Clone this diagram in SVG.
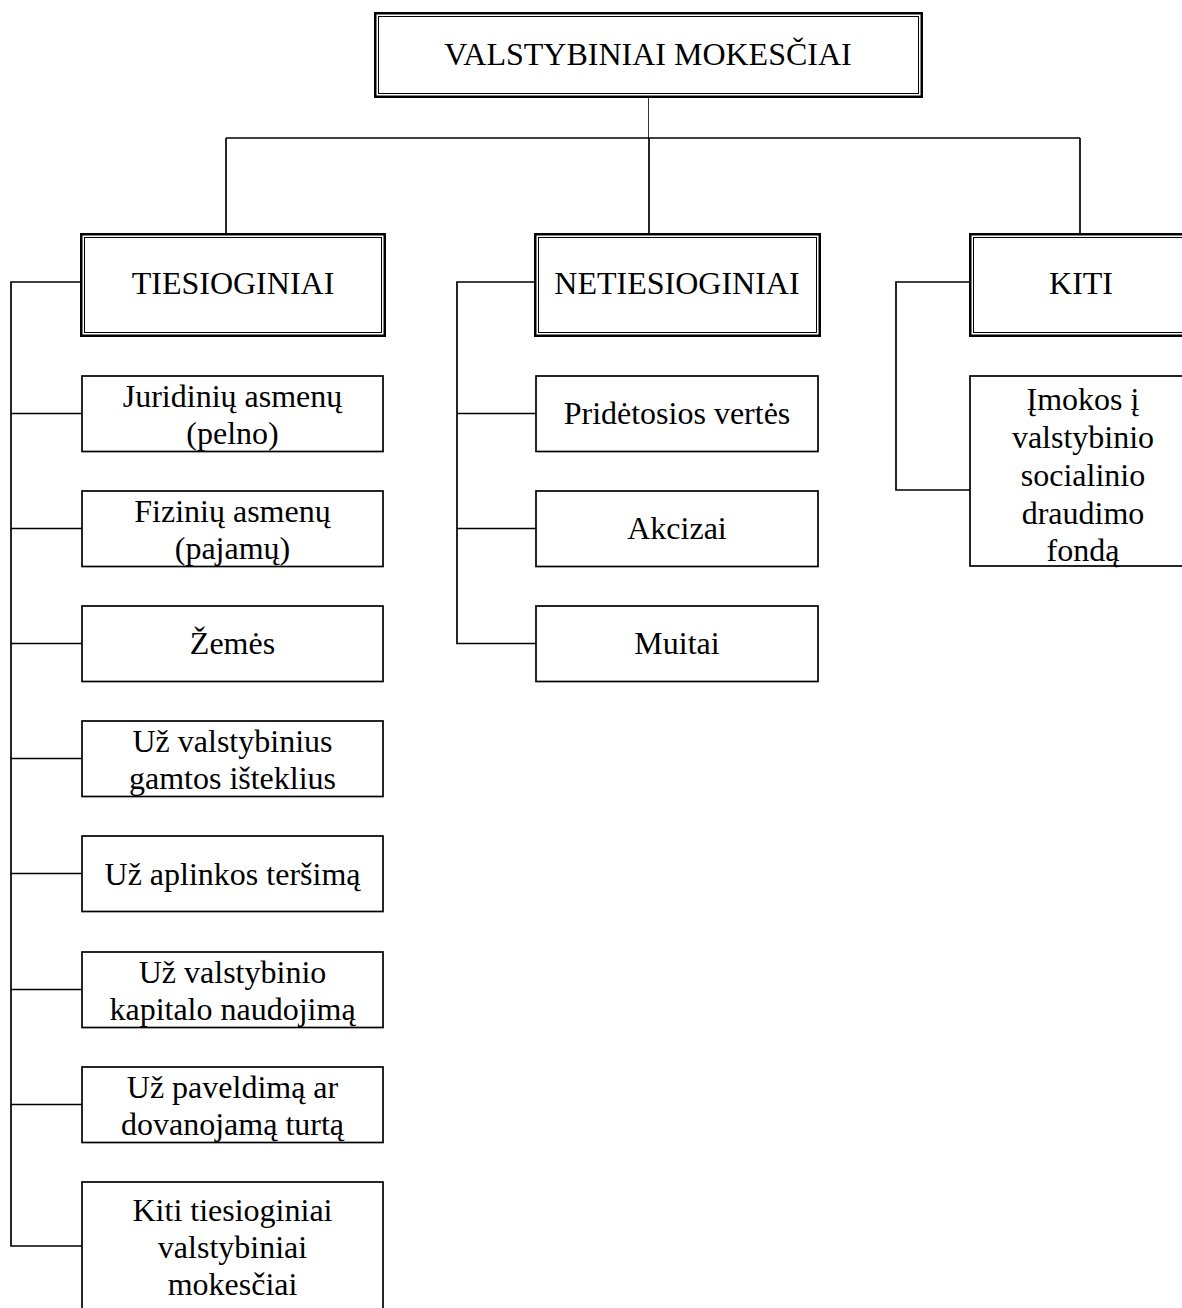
<svg xmlns="http://www.w3.org/2000/svg" width="1182" height="1308" viewBox="0 0 1182 1308">
<style>
  .bg { fill: #ffffff; }
  .outer { fill: none; stroke: #000; stroke-width: 2.5; }
  .inner { fill: none; stroke: #000; stroke-width: 1; }
  .box { fill: none; stroke: #000; stroke-width: 1.7; }
  .conn { fill: none; stroke: #000; stroke-width: 1.7; }
  .thin { fill: none; stroke: #333; stroke-width: 1; }
  text { font-family: "Liberation Serif", "Times New Roman", serif; font-size: 32px; fill: #000; text-anchor: middle; }
</style>
<rect class="bg" x="0" y="0" width="1182" height="1308"/>

<g id="connectors">
  <line class="thin" x1="648.5" y1="98" x2="648.5" y2="138"/>
  <line class="conn" x1="226" y1="138" x2="1080" y2="138"/>
  <line class="conn" x1="226" y1="138" x2="226" y2="233"/>
  <line class="conn" x1="649" y1="138" x2="649" y2="233"/>
  <line class="conn" x1="1080" y1="138" x2="1080" y2="233"/>

  <polyline class="conn" points="80,282 11,282 11,1246 82,1246"/>
  <line class="conn" x1="11" y1="413.5" x2="82" y2="413.5"/>
  <line class="conn" x1="11" y1="528.5" x2="82" y2="528.5"/>
  <line class="conn" x1="11" y1="643.5" x2="82" y2="643.5"/>
  <line class="conn" x1="11" y1="758.5" x2="82" y2="758.5"/>
  <line class="conn" x1="11" y1="873.5" x2="82" y2="873.5"/>
  <line class="conn" x1="11" y1="989.5" x2="82" y2="989.5"/>
  <line class="conn" x1="11" y1="1104.5" x2="82" y2="1104.5"/>

  <polyline class="conn" points="534,282 457,282 457,643.5 536,643.5"/>
  <line class="conn" x1="457" y1="413.5" x2="536" y2="413.5"/>
  <line class="conn" x1="457" y1="528.5" x2="536" y2="528.5"/>

  <polyline class="conn" points="969,282 896,282 896,490 970,490"/>
</g>

<g id="root">
  <rect class="outer" x="375.25" y="13.25" width="546.5" height="83.5"/>
  <rect class="inner" x="378.5" y="16.5" width="540" height="77"/>
  <text x="648" y="65">VALSTYBINIAI MOKESČIAI</text>
</g>

<g id="tiesioginiai">
  <rect class="outer" x="81.25" y="234.25" width="303.5" height="101.5"/>
  <rect class="inner" x="84.5" y="237.5" width="297" height="95"/>
  <text x="233" y="294">TIESIOGINIAI</text>
</g>

<g id="netiesioginiai">
  <rect class="outer" x="535.25" y="234.25" width="284.5" height="101.5"/>
  <rect class="inner" x="538.5" y="237.5" width="278" height="95"/>
  <text x="677" y="294">NETIESIOGINIAI</text>
</g>

<g id="kiti">
  <rect class="outer" x="970.25" y="234.25" width="230" height="101.5"/>
  <rect class="inner" x="973.5" y="237.5" width="230" height="95"/>
  <text x="1081" y="294">KITI</text>
</g>

<g id="juridiniu">
  <rect class="box" x="82" y="376" width="301" height="75.5"/>
  <text x="232.5" y="407">Juridinių asmenų</text>
  <text x="232.5" y="444">(pelno)</text>
</g>
<g id="fiziniu">
  <rect class="box" x="82" y="491" width="301" height="75.5"/>
  <text x="232.5" y="522">Fizinių asmenų</text>
  <text x="232.5" y="559">(pajamų)</text>
</g>
<g id="zemes">
  <rect class="box" x="82" y="606" width="301" height="75.5"/>
  <text x="232.5" y="654">Žemės</text>
</g>
<g id="gamtos">
  <rect class="box" x="82" y="721" width="301" height="75.5"/>
  <text x="232.5" y="752">Už valstybinius</text>
  <text x="232.5" y="789">gamtos išteklius</text>
</g>
<g id="aplinkos">
  <rect class="box" x="82" y="836" width="301" height="75.5"/>
  <text x="232.5" y="885">Už aplinkos teršimą</text>
</g>
<g id="kapitalo">
  <rect class="box" x="82" y="952" width="301" height="75.5"/>
  <text x="232.5" y="983">Už valstybinio</text>
  <text x="232.5" y="1020">kapitalo naudojimą</text>
</g>
<g id="paveldima">
  <rect class="box" x="82" y="1067" width="301" height="75.5"/>
  <text x="232.5" y="1098">Už paveldimą ar</text>
  <text x="232.5" y="1135">dovanojamą turtą</text>
</g>
<g id="kiti-tiesioginiai">
  <rect class="box" x="82" y="1182" width="301" height="150"/>
  <text x="232.5" y="1221">Kiti tiesioginiai</text>
  <text x="232.5" y="1258">valstybiniai</text>
  <text x="232.5" y="1295">mokesčiai</text>
</g>

<g id="pridetosios">
  <rect class="box" x="536" y="376" width="282" height="75.5"/>
  <text x="677" y="424">Pridėtosios vertės</text>
</g>
<g id="akcizai">
  <rect class="box" x="536" y="491" width="282" height="75.5"/>
  <text x="677" y="539">Akcizai</text>
</g>
<g id="muitai">
  <rect class="box" x="536" y="606" width="282" height="75.5"/>
  <text x="677" y="654">Muitai</text>
</g>

<g id="imokos">
  <rect class="box" x="970" y="376" width="230" height="190"/>
  <text x="1083" y="410">Įmokos į</text>
  <text x="1083" y="448">valstybinio</text>
  <text x="1083" y="486">socialinio</text>
  <text x="1083" y="524">draudimo</text>
  <text x="1083" y="561">fondą</text>
</g>
</svg>
